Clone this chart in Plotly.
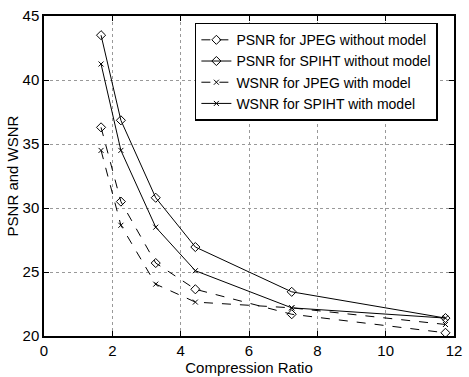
import plotly.graph_objects as go

ratio = [1.67, 2.25, 3.27, 4.43, 7.25, 11.75]
psnr_jpeg = [36.3, 30.5, 25.7, 23.65, 21.7, 20.25]
psnr_spiht = [43.5, 36.85, 30.8, 26.95, 23.45, 21.4]
wsnr_jpeg = [34.5, 28.65, 24.05, 22.65, 22.2, 20.9]
wsnr_spiht = [41.25, 34.5, 28.5, 25.1, 22.2, 21.4]

names = ["PSNR for JPEG without model", "PSNR for SPIHT without model",
         "WSNR for JPEG with model", "WSNR for SPIHT with model"]

fig = go.Figure()
series = [
    (psnr_jpeg, "dash", "diamond-open", 7),
    (psnr_spiht, "solid", "diamond-open", 7),
    (wsnr_jpeg, "dash", "x-thin-open", 5),
    (wsnr_spiht, "solid", "x-thin-open", 5),
]
for (ys, dash, sym, sz), nm in zip(series, names):
    fig.add_trace(go.Scatter(
        x=ratio, y=ys, name=nm, mode="lines+markers",
        line=dict(color="black", width=1, dash=dash),
        marker=dict(symbol=sym, size=sz, color="black",
                    line=dict(color="black", width=1)),
    ))

font = "Liberation Sans, Arial, sans-serif"
axis_common = dict(
    showline=True, linecolor="black", linewidth=1.5, mirror="ticks",
    ticks="inside", ticklen=5, tickcolor="black",
    showgrid=True, gridcolor="#999999", griddash="dot", gridwidth=1,
    zeroline=False, tickfont=dict(family=font, size=15, color="black"),
)
fig.update_xaxes(range=[0, 12], tick0=0, dtick=2,
                 title=dict(text="Compression Ratio", font=dict(family=font, size=15, color="black"), standoff=1),
                 **axis_common)
fig.update_yaxes(range=[20, 45], tick0=20, dtick=5,
                 title=dict(text="PSNR and WSNR", font=dict(family=font, size=15, color="black"), standoff=0),
                 **axis_common)

fig.update_layout(
    width=469, height=377,
    margin=dict(l=44, r=7, t=10, b=38),
    paper_bgcolor="white", plot_bgcolor="white",
    showlegend=True,
    legend=dict(x=0.368, y=0.979, xanchor="left", yanchor="top",
                bgcolor="white", bordercolor="black", borderwidth=1.5,
                font=dict(family=font, size=14, color="black"),
                tracegroupgap=0, itemwidth=30),
)
fig.write_html("out.html")
